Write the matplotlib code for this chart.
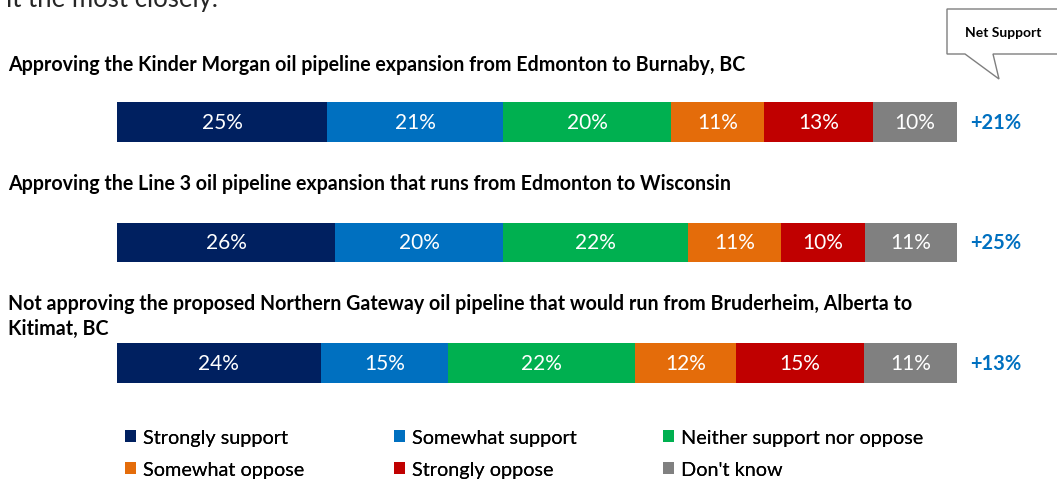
import matplotlib.pyplot as plt
from matplotlib.patches import Polygon

W, H = 1057, 481

questions = [
    "Approving the Kinder Morgan oil pipeline expansion from Edmonton to Burnaby, BC",
    "Approving the Line 3 oil pipeline expansion that runs from Edmonton to Wisconsin",
    "Not approving the proposed Northern Gateway oil pipeline that would run from Bruderheim, Alberta to\nKitimat, BC",
]
categories = ["Strongly support", "Somewhat support", "Neither support nor oppose",
              "Somewhat oppose", "Strongly oppose", "Don't know"]
values = [
    [25, 21, 20, 11, 13, 10],
    [26, 20, 22, 11, 10, 11],
    [24, 15, 22, 12, 15, 11],
]
net_support = ["+21%", "+25%", "+13%"]
colors = ["#002060", "#0070C0", "#00B050", "#E46C0A", "#C00000", "#808080"]

FONT = "Lato"
plt.rcParams["font.family"] = [FONT, "DejaVu Sans"]


def px(x, y):
    # pixel position (from top-left) -> figure fraction
    return x / W, 1 - y / H


def main():
    fig = plt.figure(figsize=(W / 100, H / 100), dpi=100)

    # bars: 0% at x=117px, 100% at x=957px; rows 120.5px apart
    left, top = px(117, 62.75)
    _, bottom = px(117, 424.25)
    ax = fig.add_axes([left, bottom, 840 / W, top - bottom])
    ax.set_xlim(0, 100)
    ax.set_ylim(2.5, -0.5)
    ax.axis("off")

    for i, row in enumerate(values):
        total = sum(row)  # 100% stacked, like the original
        start = 0
        for j, v in enumerate(row):
            w = v / total * 100
            ax.barh(i, w, left=start, height=0.33, color=colors[j],
                    label=categories[j] if i == 0 else None)
            ax.text(start + w / 2, i, f"{v}%", color="white", ha="center",
                    va="center", fontsize=15)
            start += w
        ax.text(101.6, i, net_support[i], color="#0070C0", fontsize=14.5,
                fontweight="bold", ha="left", va="center")

    # question titles (baseline of the last line)
    title_y = [71, 190, 335]
    for q, y in zip(questions, title_y):
        fig.text(*px(8, y), q, fontsize=14.1, fontweight="bold", ha="left",
                 va="baseline", color="black", linespacing=1.3)

    # cut-off heading at the very top
    fig.text(*px(6, 7), "it the most closely.", fontsize=18.5, ha="left",
             va="baseline", color="#262626")

    # "Net Support" callout
    pts = [(947, 10), (1060, 10), (1060, 55), (993, 55), (999, 80),
           (965, 55), (947, 55)]
    fig.patches.append(Polygon([px(x, y) for x, y in pts], closed=True,
                               transform=fig.transFigure, facecolor="white",
                               edgecolor="#7f7f7f", linewidth=1))
    fig.text(*px(1003, 33), "Net Support", fontsize=10, fontweight="bold",
             ha="center", va="center")

    # legend: three columns of two entries each
    handles, labels = ax.get_legend_handles_labels()
    col_x = [125, 394, 663]
    for c, x in enumerate(col_x):
        idx = [c, c + 3]
        leg = fig.legend([handles[k] for k in idx], [labels[k] for k in idx],
                         loc="upper left", bbox_to_anchor=px(x, 430),
                         frameon=False, fontsize=14.3, handlelength=0.55,
                         handleheight=0.55, handletextpad=0.35,
                         labelspacing=0.75, borderaxespad=0, borderpad=0)
        fig.add_artist(leg)

    fig.savefig("out.png", dpi=100)


if __name__ == "__main__":
    main()
